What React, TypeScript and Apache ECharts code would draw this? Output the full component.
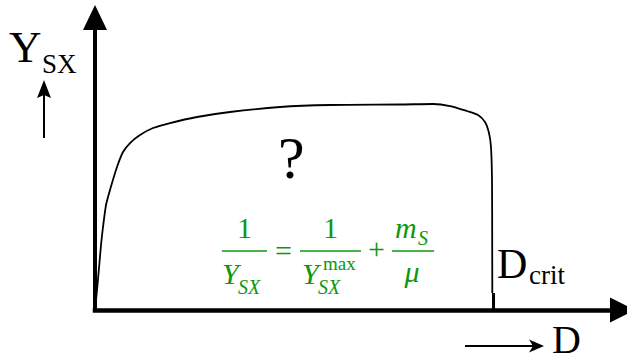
import React, { useEffect, useRef } from "react";
import * as echarts from "echarts";

// Curve (arbitrary units: D from 0..100 along x, Y_SX 0..100 along y)
const curveD = [0, 0.38, 0.76, 1.14, 1.52, 2.09, 2.84, 4.17, 5.31, 6.64, 8.53, 11.0, 14.22, 19.34, 25.59, 35.07, 44.55, 57.82, 64.08, 67.3, 70.52, 72.61, 73.93, 74.69, 75.07, 75.26, 75.3, 75.32];
const curveY = [0, 6.84, 14.36, 22.22, 28.38, 35.9, 41.03, 48.89, 54.02, 57.09, 59.83, 62.22, 63.93, 65.98, 67.69, 69.4, 70.09, 70.26, 70.43, 69.74, 68.03, 66.67, 64.27, 60.51, 55.73, 44.44, 21.54, 5.81];
// Small thick mark at D_crit on the D axis
const critTickD = [75.55, 75.55];
const critTickY = [0, 5.8];

const yAxisName = "Y";
const yAxisSub = "SX";
const xAxisName = "D";
const critName = "D";
const critSub = "crit";
const questionMark = "?";

const SERIF = "'Liberation Serif', 'Times New Roman', 'DejaVu Serif', serif";
const GREEN = "#0b990b";

function txt(text: string, x: number, baseline: number, size: number, opts: any = {}) {
  return {
    type: "text",
    x,
    y: baseline - 0.34 * size,
    silent: true,
    style: {
      text,
      fill: opts.fill || "#000",
      font: `${opts.italic ? "italic " : ""}${size}px ${SERIF}`,
      align: opts.align || "left",
      verticalAlign: "middle",
    },
  };
}

function hline(x1: number, x2: number, y: number, color: string, w: number) {
  return {
    type: "line",
    silent: true,
    shape: { x1, y1: y, x2, y2: y },
    style: { stroke: color, lineWidth: w },
  };
}

export default function App() {
  const ref = useRef<HTMLDivElement>(null);
  useEffect(() => {
    const chart = echarts.init(ref.current!, null, { renderer: "svg" });
    const axisCommon = {
      type: "value",
      min: 0,
      max: 100,
      axisTick: { show: false },
      axisLabel: { show: false },
      splitLine: { show: false },
    };
    const option: any = {
      animation: false,
      backgroundColor: "#fff",
      textStyle: { fontFamily: SERIF },
      grid: { left: 95, top: 17.5, right: 4.5, bottom: 47 },
      xAxis: {
        ...axisCommon,
        axisLine: {
          show: true,
          onZero: false,
          symbol: ["none", "triangle"],
          symbolSize: [25, 25],
          lineStyle: { color: "#000", width: 4.5, cap: "square" },
        },
      },
      yAxis: {
        ...axisCommon,
        axisLine: {
          show: true,
          onZero: false,
          symbol: ["none", "triangle"],
          symbolSize: [24, 25],
          lineStyle: { color: "#000", width: 4, cap: "square" },
        },
      },
      series: [
        {
          type: "line",
          data: curveD.map((d, i) => [d, curveY[i]]),
          symbol: "none",
          smooth: 0.25,
          lineStyle: { color: "#000", width: 1.8 },
          z: 3,
        },
        {
          type: "line",
          data: critTickD.map((d, i) => [d, critTickY[i]]),
          symbol: "none",
          lineStyle: { color: "#000", width: 3 },
          z: 3,
        },
      ],
      graphic: [
        {
          type: "group",
          z: 100,
          children: [
            // Y_SX label with small up arrow
            txt(yAxisName, 9, 62, 45),
            txt(yAxisSub, 42, 73, 27),
            {
              type: "line",
              silent: true,
              shape: { x1: 44, y1: 138, x2: 44, y2: 94 },
              style: { stroke: "#000", lineWidth: 2 },
            },
            {
              type: "polygon",
              silent: true,
              shape: { points: [[44, 80], [51, 98], [44, 95], [37, 98]] },
              style: { fill: "#000" },
            },
            // question mark
            txt(questionMark, 278, 178, 60),
            // D_crit
            txt(critName, 497, 278, 42),
            txt(critSub, 529, 284, 27),
            // D with arrow
            txt(xAxisName, 552, 353, 40),
            {
              type: "line",
              silent: true,
              shape: { x1: 465, y1: 346, x2: 535, y2: 346 },
              style: { stroke: "#000", lineWidth: 2 },
            },
            {
              type: "polygon",
              silent: true,
              shape: { points: [[544, 346], [529, 339.5], [533, 346], [529, 352.5]] },
              style: { fill: "#000" },
            },
            // green formula: 1/Y_SX = 1/Y_SX^max + m_S/mu
            txt("1", 244.5, 238, 30, { fill: GREEN, align: "center" }),
            hline(222, 267, 251, GREEN, 1.5),
            txt("Y", 222, 284, 30, { fill: GREEN, italic: true }),
            txt("SX", 238, 294, 20, { fill: GREEN, italic: true }),
            txt("=", 283.5, 261, 30, { fill: GREEN, align: "center" }),
            txt("1", 330.5, 238, 30, { fill: GREEN, align: "center" }),
            hline(300, 361, 251, GREEN, 1.5),
            txt("Y", 302, 284, 30, { fill: GREEN, italic: true }),
            txt("max", 323, 270, 19, { fill: GREEN }),
            txt("SX", 318, 294, 20, { fill: GREEN, italic: true }),
            txt("+", 376.5, 258.5, 30, { fill: GREEN, align: "center" }),
            txt("m", 395, 238, 30, { fill: GREEN, italic: true }),
            txt("S", 418, 245, 20, { fill: GREEN, italic: true }),
            hline(392, 434, 251, GREEN, 1.5),
            txt("\u03bc", 412, 282, 30, { fill: GREEN, italic: true, align: "center" }),
          ],
        },
      ],
    };
    chart.setOption(option);
    return () => chart.dispose();
  }, []);
  return (
    <div
      ref={ref}
      style={{ position: "absolute", left: 0, top: 0, width: 627, height: 357 }}
    />
  );
}
